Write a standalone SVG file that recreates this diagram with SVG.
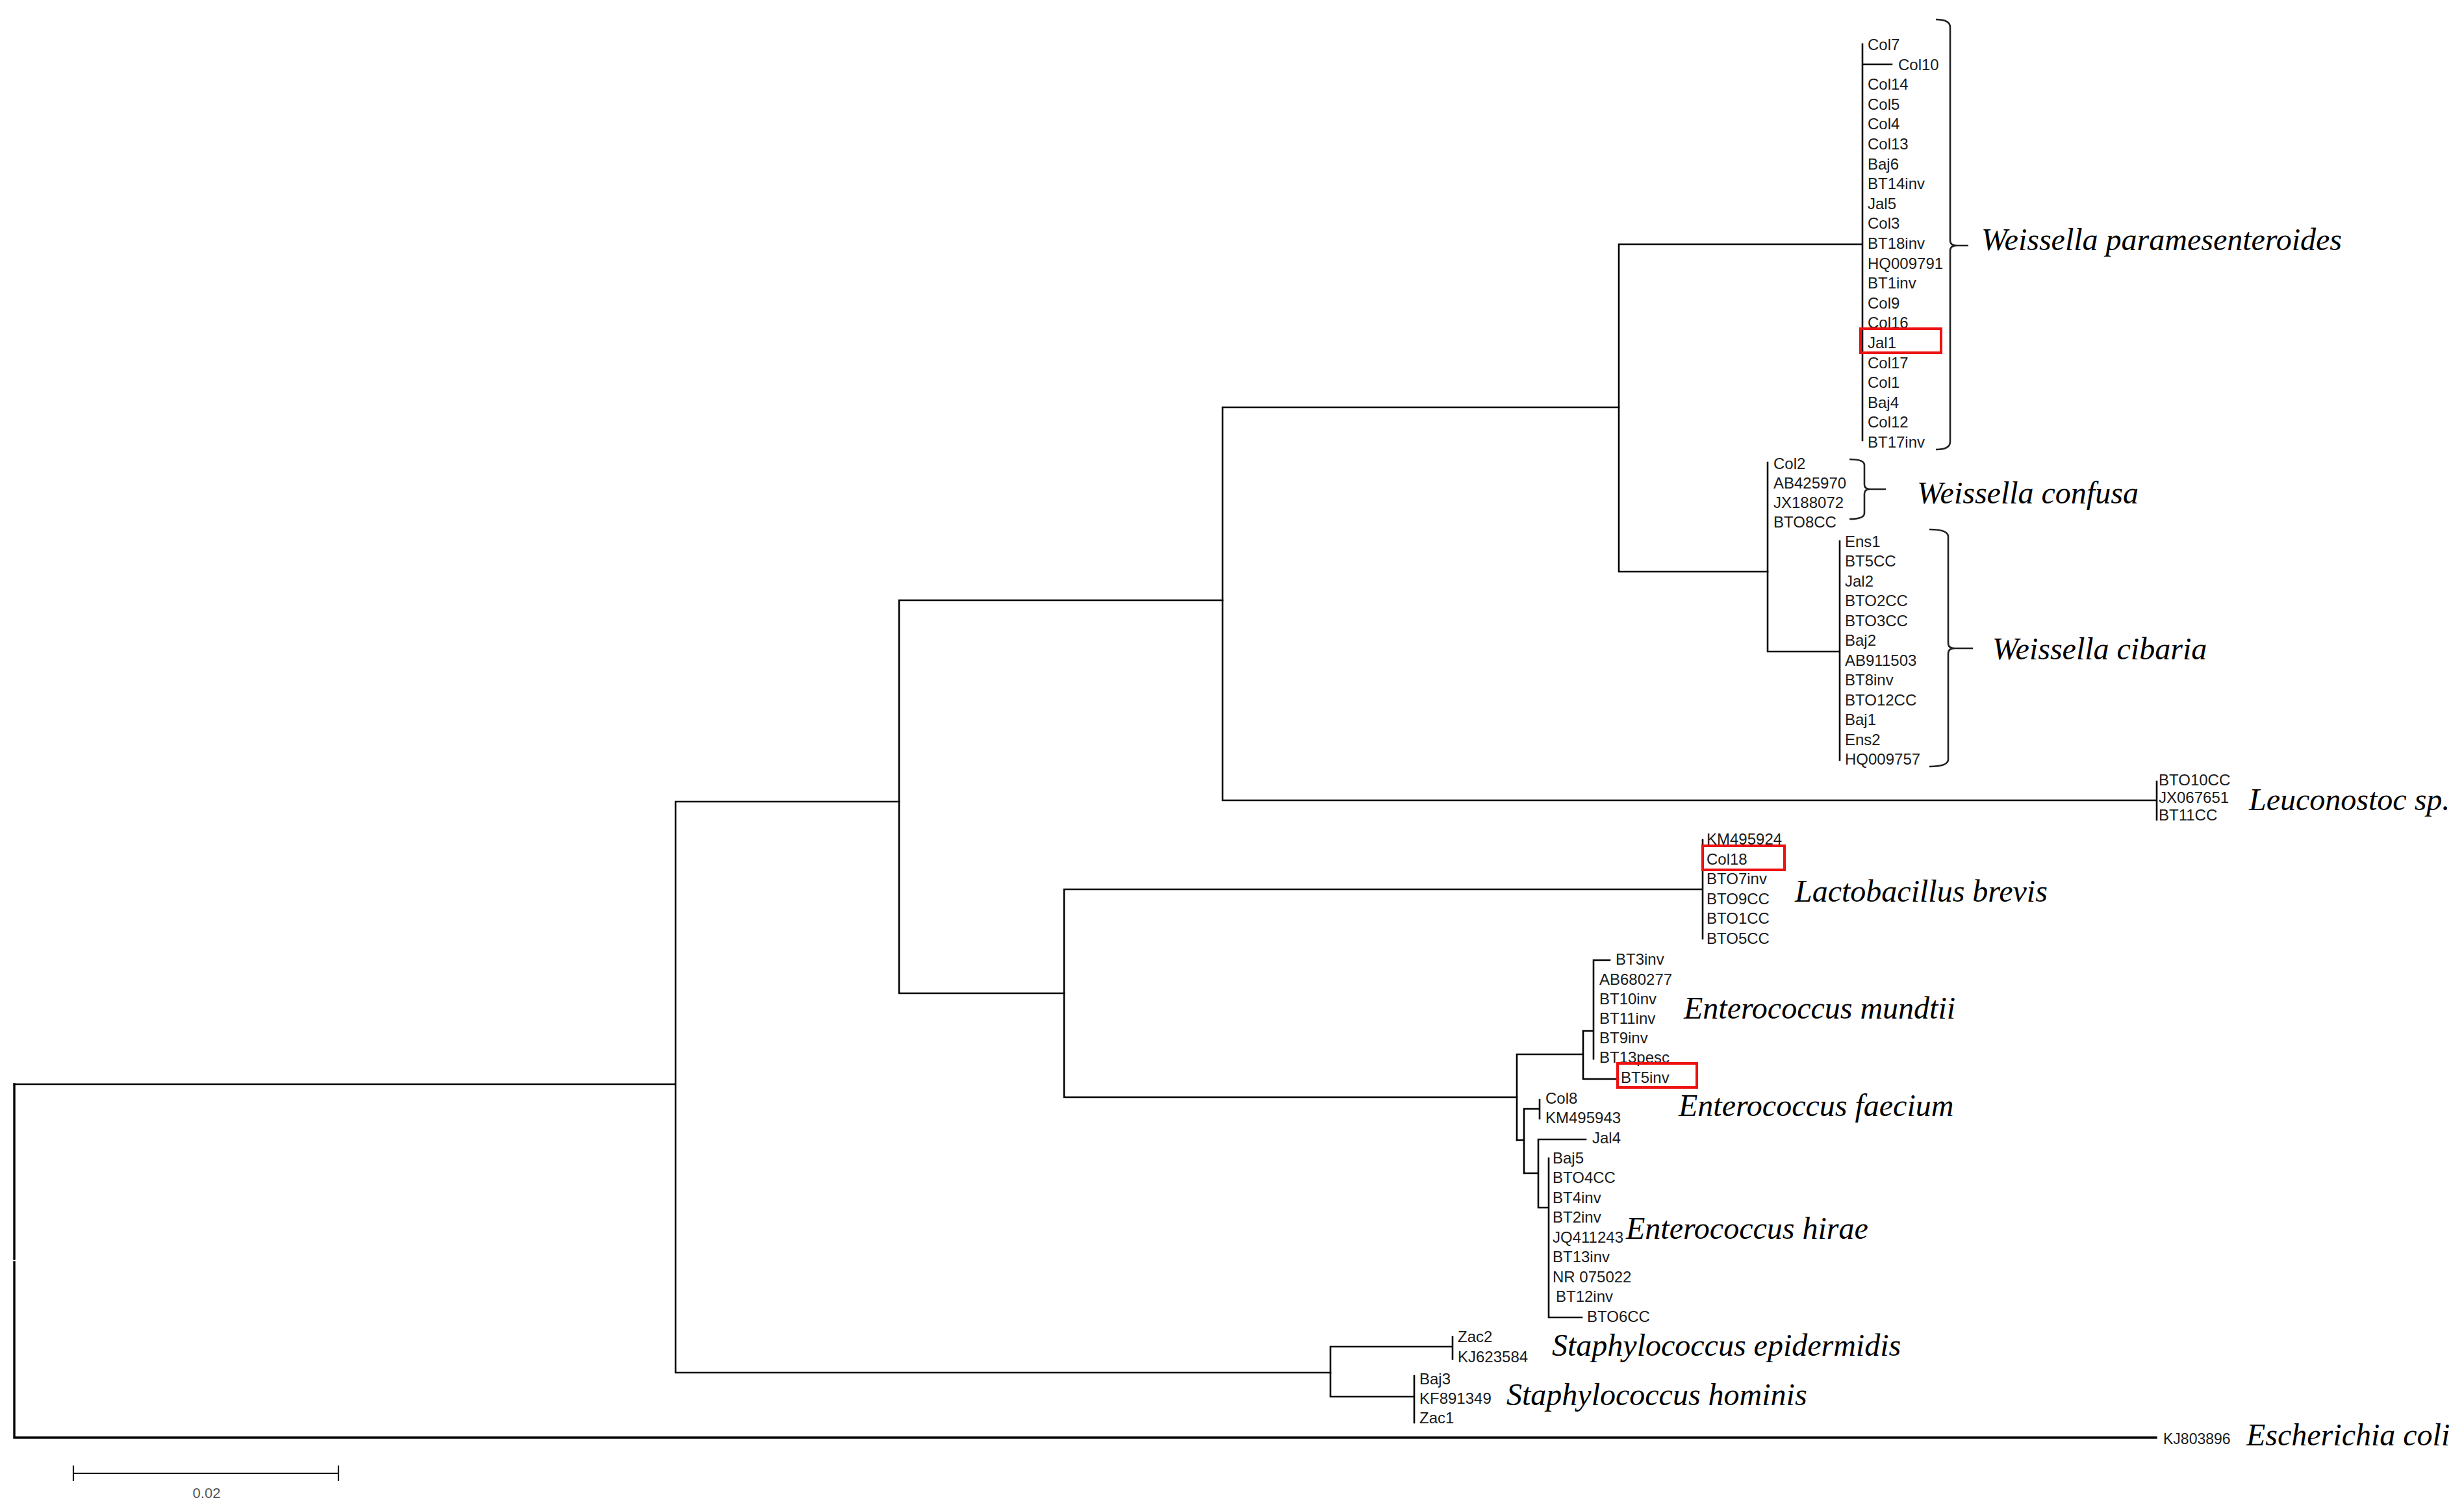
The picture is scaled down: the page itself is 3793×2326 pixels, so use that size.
<svg xmlns="http://www.w3.org/2000/svg" width="3793" height="2326" viewBox="0 0 3793 2326">
<style>
.e{stroke:#000;stroke-width:2.6;fill:none;stroke-linecap:square}
.ew{stroke:#000;stroke-width:3.4;fill:none;stroke-linecap:square}
.l{font-family:"Liberation Sans",Arial,sans-serif;font-size:24px;fill:#1a1a1a}
.sp{font-family:"Liberation Serif","Times New Roman",serif;font-style:italic;font-size:48px;fill:#000}
.br{stroke:#222;stroke-width:2.6;fill:none}
.box{stroke:#ee1111;stroke-width:4;fill:none}
</style>
<rect width="3793" height="2326" fill="#fff"/>
<g id="connectors">
<path class="ew" d="M22,1669 V1938 M22,1943 V2213 M22,2213 H3319"/>
<path class="e" d="M22,1669 H1040 M1040,1234 V2113 M1040,1234 H1384 M1040,2113 H2048"/>
<path class="e" d="M1384,924 V1529 M1384,924 H1882 M1384,1529 H1638"/>
<path class="e" d="M1882,627 V1232 M1882,627 H2492 M1882,1232 H3320 M3320,1203 V1262"/>
<path class="e" d="M2492,376 V880 M2492,376 H2867 M2867,68 V678 M2867,99 H2912 M2492,880 H2721"/>
<path class="e" d="M2721,712 V1003 M2721,1003 H2832 M2832,833 V1170"/>
<path class="e" d="M1638,1369 V1689 M1638,1369 H2621 M2621,1293 V1445 M1638,1689 H2335"/>
<path class="e" d="M2335,1623 V1755 M2335,1623 H2437 M2437,1587 V1661 M2437,1661 H2491 M2437,1587 H2453 M2453,1478 V1630 M2453,1478 H2478"/>
<path class="e" d="M2335,1755 H2346 M2346,1707 V1806 M2346,1707 H2370 M2370,1693 V1722 M2346,1806 H2368 M2368,1754 V1859 M2368,1754 H2441 M2368,1859 H2384 M2384,1783 V2028 M2384,2028 H2435"/>
<path class="e" d="M2048,2073 V2150 M2048,2073 H2236 M2236,2058 V2092 M2048,2150 H2177 M2177,2118 V2190"/>
</g>
<g id="clade-weissella-paramesenteroides">
<text class="l" x="2875" y="77">Col7</text>
<text class="l" x="2922" y="108">Col10</text>
<text class="l" x="2875" y="138">Col14</text>
<text class="l" x="2875" y="169">Col5</text>
<text class="l" x="2875" y="199">Col4</text>
<text class="l" x="2875" y="230">Col13</text>
<text class="l" x="2875" y="261">Baj6</text>
<text class="l" x="2875" y="291">BT14inv</text>
<text class="l" x="2875" y="322">Jal5</text>
<text class="l" x="2875" y="352">Col3</text>
<text class="l" x="2875" y="383">BT18inv</text>
<text class="l" x="2875" y="414">HQ009791</text>
<text class="l" x="2875" y="444">BT1inv</text>
<text class="l" x="2875" y="475">Col9</text>
<text class="l" x="2875" y="505">Col16</text>
<text class="l" x="2875" y="536">Jal1</text>
<text class="l" x="2875" y="567">Col17</text>
<text class="l" x="2875" y="597">Col1</text>
<text class="l" x="2875" y="628">Baj4</text>
<text class="l" x="2875" y="658">Col12</text>
<text class="l" x="2875" y="689">BT17inv</text>
<rect class="box" x="2864" y="506" width="124" height="37"/>
<path class="br" d="M2980,30 Q3002,30 3002,42 V370 Q3002,378 3012,378 H3030 M3012,378 Q3002,378 3002,386 V680 Q3002,692 2980,692"/>
<text class="sp" x="3050" y="385">Weissella paramesenteroides</text>
</g>
<g id="clade-weissella-confusa">
<text class="l" x="2730" y="722">Col2</text>
<text class="l" x="2730" y="752">AB425970</text>
<text class="l" x="2730" y="782">JX188072</text>
<text class="l" x="2730" y="812">BTO8CC</text>
<path class="br" d="M2847,707 Q2870,707 2870,716 V746 Q2870,753 2879,753 H2903 M2879,753 Q2870,753 2870,760 V790 Q2870,799 2847,799"/>
<text class="sp" x="2951" y="775">Weissella confusa</text>
</g>
<g id="clade-weissella-cibaria">
<text class="l" x="2840" y="842">Ens1</text>
<text class="l" x="2840" y="872">BT5CC</text>
<text class="l" x="2840" y="903">Jal2</text>
<text class="l" x="2840" y="933">BTO2CC</text>
<text class="l" x="2840" y="964">BTO3CC</text>
<text class="l" x="2840" y="994">Baj2</text>
<text class="l" x="2840" y="1025">AB911503</text>
<text class="l" x="2840" y="1055">BT8inv</text>
<text class="l" x="2840" y="1086">BTO12CC</text>
<text class="l" x="2840" y="1116">Baj1</text>
<text class="l" x="2840" y="1147">Ens2</text>
<text class="l" x="2840" y="1177">HQ009757</text>
<path class="br" d="M2970,815 Q2999,815 2999,826 V990 Q2999,998 3009,998 H3037 M3009,998 Q2999,998 2999,1006 V1169 Q2999,1180 2970,1180"/>
<text class="sp" x="3067" y="1015">Weissella cibaria</text>
</g>
<g id="clade-leuconostoc">
<text class="l" x="3323" y="1209">BTO10CC</text>
<text class="l" x="3323" y="1236">JX067651</text>
<text class="l" x="3323" y="1263">BT11CC</text>
<text class="sp" x="3462" y="1247">Leuconostoc sp.</text>
</g>
<g id="clade-lactobacillus-brevis">
<text class="l" x="2627" y="1300">KM495924</text>
<text class="l" x="2627" y="1331">Col18</text>
<text class="l" x="2627" y="1361">BTO7inv</text>
<text class="l" x="2627" y="1392">BTO9CC</text>
<text class="l" x="2627" y="1422">BTO1CC</text>
<text class="l" x="2627" y="1453">BTO5CC</text>
<rect class="box" x="2621" y="1302" width="126" height="37"/>
<text class="sp" x="2763" y="1388">Lactobacillus brevis</text>
</g>
<g id="clade-enterococcus-mundtii">
<text class="l" x="2487" y="1485">BT3inv</text>
<text class="l" x="2462" y="1516">AB680277</text>
<text class="l" x="2462" y="1546">BT10inv</text>
<text class="l" x="2462" y="1576">BT11inv</text>
<text class="l" x="2462" y="1606">BT9inv</text>
<text class="l" x="2462" y="1636">BT13pesc</text>
<text class="l" x="2495" y="1667">BT5inv</text>
<rect class="box" x="2490" y="1637" width="122" height="37"/>
<text class="sp" x="2592" y="1568">Enterococcus mundtii</text>
</g>
<g id="clade-enterococcus-faecium">
<text class="l" x="2379" y="1699">Col8</text>
<text class="l" x="2379" y="1729">KM495943</text>
<text class="sp" x="2584" y="1718">Enterococcus faecium</text>
</g>
<g id="clade-enterococcus-hirae">
<text class="l" x="2451" y="1760">Jal4</text>
<text class="l" x="2390" y="1791">Baj5</text>
<text class="l" x="2390" y="1821">BTO4CC</text>
<text class="l" x="2390" y="1852">BT4inv</text>
<text class="l" x="2390" y="1882">BT2inv</text>
<text class="l" x="2390" y="1913">JQ411243</text>
<text class="l" x="2390" y="1943">BT13inv</text>
<text class="l" x="2390" y="1974">NR 075022</text>
<text class="l" x="2395" y="2004">BT12inv</text>
<text class="l" x="2443" y="2035">BTO6CC</text>
<text class="sp" x="2503" y="1907">Enterococcus hirae</text>
</g>
<g id="clade-staphylococcus-epidermidis">
<text class="l" x="2244" y="2066">Zac2</text>
<text class="l" x="2244" y="2097">KJ623584</text>
<text class="sp" x="2389" y="2087">Staphylococcus epidermidis</text>
</g>
<g id="clade-staphylococcus-hominis">
<text class="l" x="2185" y="2131">Baj3</text>
<text class="l" x="2185" y="2161">KF891349</text>
<text class="l" x="2185" y="2191">Zac1</text>
<text class="sp" x="2319" y="2163">Staphylococcus hominis</text>
</g>
<g id="clade-escherichia-coli">
<text class="l" x="3330" y="2223" style="font-size:23px">KJ803896</text>
<text class="sp" x="3458" y="2225">Escherichia coli</text>
</g>
<g id="scale-bar">
<path class="e" style="stroke-width:2.2" d="M113,2268 H521 M113,2257 V2279 M521,2257 V2279"/>
<text x="318" y="2306" text-anchor="middle" style="font-family:'Liberation Sans',Arial,sans-serif;font-size:22px;fill:#555">0.02</text>
</g>
</svg>
